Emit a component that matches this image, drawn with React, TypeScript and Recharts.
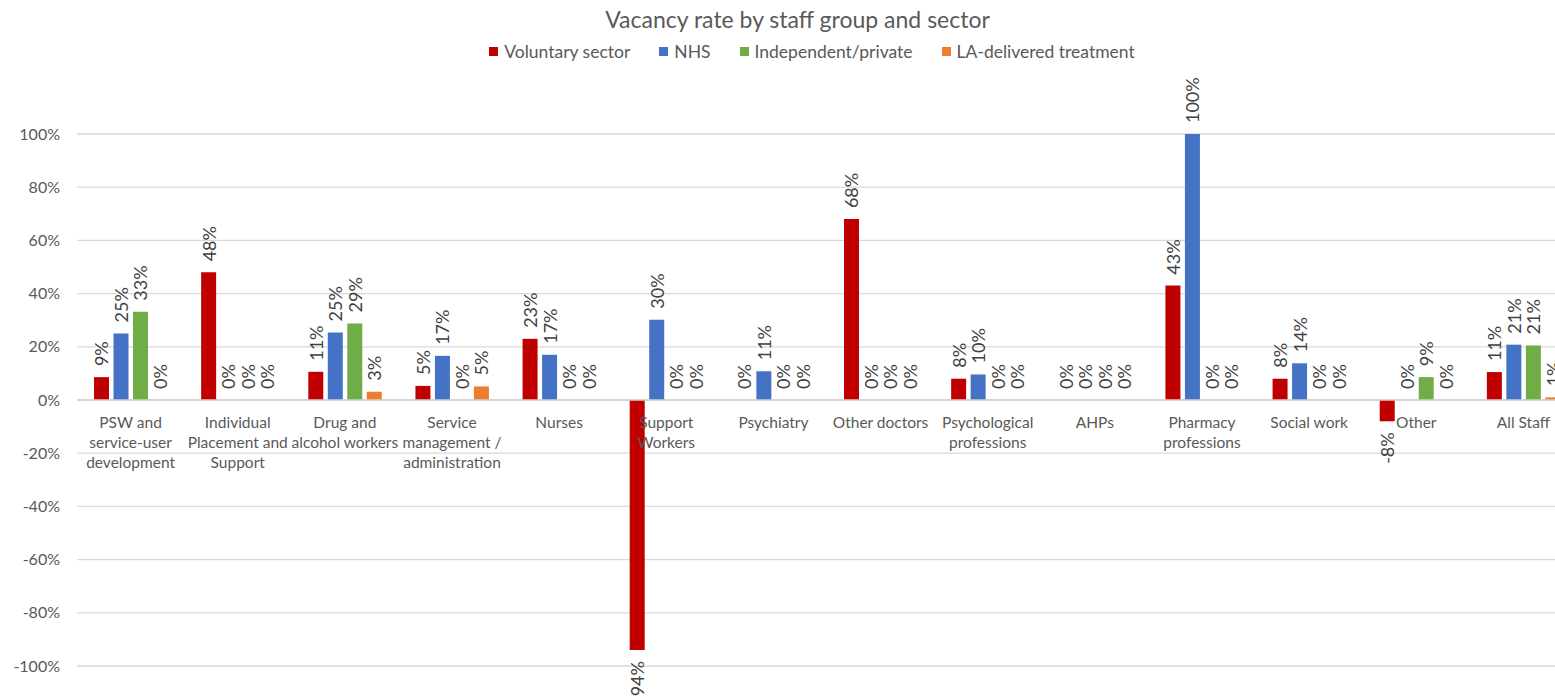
import { BarChart, Bar, XAxis, YAxis, CartesianGrid, ReferenceLine, LabelList } from "recharts";

const categories = [
  "PSW and\nservice-user\ndevelopment",
  "Individual\nPlacement and\nSupport",
  "Drug and\nalcohol workers",
  "Service\nmanagement /\nadministration",
  "Nurses",
  "Support\nWorkers",
  "Psychiatry",
  "Other doctors",
  "Psychological\nprofessions",
  "AHPs",
  "Pharmacy\nprofessions",
  "Social work",
  "Other",
  "All Staff",
];

const voluntary = [0.086, 0.48, 0.106, 0.053, 0.23, -0.94, 0, 0.68, 0.08, 0, 0.43, 0.08, -0.08, 0.105];
const nhs = [0.25, 0, 0.254, 0.166, 0.17, 0.302, 0.108, 0, 0.096, 0, 1.0, 0.138, 0, 0.208];
const independent = [0.332, 0, 0.288, 0, 0, 0, 0, 0, 0, 0, 0, 0, 0.086, 0.205];
const laDelivered = [0, 0, 0.031, 0.051, 0, 0, 0, 0, 0, 0, 0, 0, 0, 0.01];

const yTicks = [-1, -0.8, -0.6, -0.4, -0.2, 0, 0.2, 0.4, 0.6, 0.8, 1];

const series = [
  { key: "voluntary", name: "Voluntary sector", color: "#C00000" },
  { key: "nhs", name: "NHS", color: "#4472C4" },
  { key: "independent", name: "Independent/private", color: "#70AD47" },
  { key: "la", name: "LA-delivered treatment", color: "#ED7D31" },
];

const data = categories.map((c, i) => ({
  category: c,
  voluntary: voluntary[i],
  nhs: nhs[i],
  independent: independent[i],
  la: laDelivered[i],
}));

const FONT = "Lato, 'Open Sans', sans-serif";
const TOP = 134;
const PLOT_H = 532;
const ZERO_Y = TOP + PLOT_H / 2;

const pct = (v: number) => `${Math.round(v * 100)}%`;

const BarValue = (props: any) => {
  const { x, y, width, height, value } = props;
  if (value === undefined || value === null) return null;
  const cx = x + width / 2;
  const neg = value < 0;
  const end = neg ? Math.max(y, y + height) : Math.min(y, y + height);
  const ay = neg ? end + 11 : end - 11;
  return (
    <text
      x={cx}
      y={ay}
      transform={`rotate(-90 ${cx} ${ay})`}
      textAnchor={neg ? "end" : "start"}
      dominantBaseline="central"
      fontSize={18}
      fontFamily={FONT}
      fill="#404040"
    >
      {pct(value)}
    </text>
  );
};

const CategoryTick = (props: any) => {
  const { x, payload } = props;
  const lines = String(payload.value).split("\n");
  return (
    <text x={x} y={ZERO_Y + 28} textAnchor="middle" fontSize={15.5} fontFamily={FONT} fill="#595959">
      {lines.map((l, i) => (
        <tspan key={i} x={x} dy={i === 0 ? 0 : 20}>
          {l}
        </tspan>
      ))}
    </text>
  );
};

export default function App() {
  return (
    <div
      style={{
        position: "absolute",
        left: 0,
        top: 0,
        width: 1555,
        height: 697,
        overflow: "hidden",
        background: "#fff",
        fontFamily: FONT,
      }}
    >
      <div
        style={{
          position: "absolute",
          left: 0,
          top: 5,
          width: 1595,
          textAlign: "center",
          fontSize: 23,
          color: "#595959",
        }}
      >
        Vacancy rate by staff group and sector
      </div>
      <div
        style={{
          position: "absolute",
          left: 0,
          top: 41,
          width: 1624,
          display: "flex",
          justifyContent: "center",
          gap: 29,
          fontSize: 17.5,
          color: "#595959",
        }}
      >
        {series.map((s) => (
          <div key={s.key} style={{ display: "flex", alignItems: "center", gap: 6 }}>
            <span style={{ width: 9, height: 9, background: s.color, display: "inline-block" }} />
            {s.name}
          </div>
        ))}
      </div>
      <div style={{ position: "absolute", left: 0, top: 0 }}>
        <BarChart
          width={1580}
          height={720}
          data={data}
          margin={{ top: TOP, right: 3, bottom: 14, left: 0 }}
          barSize={15}
          barGap={4.5}
        >
          <CartesianGrid vertical={false} stroke="#d9d9d9" strokeWidth={1.3} />
          <XAxis
            dataKey="category"
            axisLine={false}
            tickLine={false}
            interval={0}
            height={40}
            tick={<CategoryTick />}
          />
          <YAxis
            type="number"
            domain={[-1, 1]}
            ticks={yTicks}
            width={77}
            axisLine={false}
            tickLine={false}
            tickMargin={11}
            tickFormatter={pct}
            tick={{ fontSize: 16, fill: "#595959", fontFamily: FONT }}
          />
          <ReferenceLine y={0} stroke="#d0d0d0" strokeWidth={1.5} />
          {series.map((s) => (
            <Bar
              key={s.key}
              dataKey={s.key}
              name={s.name}
              fill={s.color}
              minPointSize={0.01}
              isAnimationActive={false}
            >
              <LabelList dataKey={s.key} content={<BarValue />} />
            </Bar>
          ))}
        </BarChart>
      </div>
    </div>
  );
}
